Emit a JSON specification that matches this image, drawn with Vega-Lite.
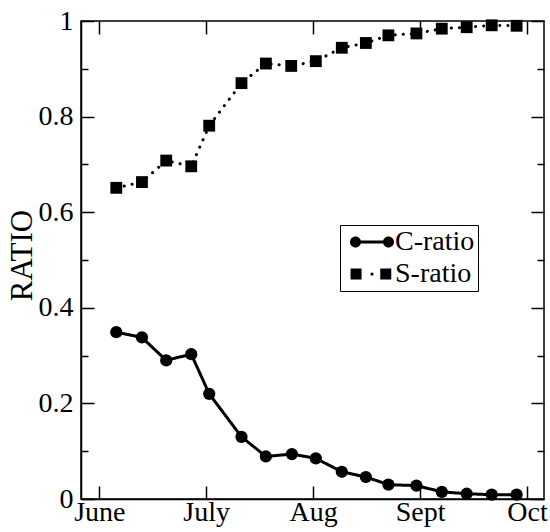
{
  "$schema": "https://vega.github.io/schema/vega-lite/v6.json",
  "width": 463,
  "height": 478,
  "autosize": "none",
  "padding": {"left": 81, "top": 21, "right": 6, "bottom": 33},
  "background": "white",
  "config": {
    "view": {"stroke": "black", "strokeWidth": 1.5},
    "axis": {
      "domainColor": "black", "domainWidth": 1.5, "tickColor": "black", "tickWidth": 1.5,
      "labelFont": "Liberation Serif", "labelFontSize": 28, "labelColor": "black",
      "titleFont": "Liberation Serif", "titleFontSize": 31, "titleFontWeight": "normal", "titleColor": "black",
      "grid": false
    }
  },
  "data": {
    "values": [
      {"m": 6.159, "v": 0.349, "s": "C-ratio"},
      {"m": 6.399, "v": 0.338, "s": "C-ratio"},
      {"m": 6.626, "v": 0.290, "s": "C-ratio"},
      {"m": 6.860, "v": 0.303, "s": "C-ratio"},
      {"m": 7.028, "v": 0.220, "s": "C-ratio"},
      {"m": 7.330, "v": 0.130, "s": "C-ratio"},
      {"m": 7.558, "v": 0.089, "s": "C-ratio"},
      {"m": 7.801, "v": 0.094, "s": "C-ratio"},
      {"m": 8.025, "v": 0.085, "s": "C-ratio"},
      {"m": 8.268, "v": 0.057, "s": "C-ratio"},
      {"m": 8.493, "v": 0.046, "s": "C-ratio"},
      {"m": 8.704, "v": 0.030, "s": "C-ratio"},
      {"m": 8.966, "v": 0.028, "s": "C-ratio"},
      {"m": 9.203, "v": 0.015, "s": "C-ratio"},
      {"m": 9.436, "v": 0.011, "s": "C-ratio"},
      {"m": 9.670, "v": 0.009, "s": "C-ratio"},
      {"m": 9.903, "v": 0.009, "s": "C-ratio"},
      {"m": 6.159, "v": 0.651, "s": "S-ratio"},
      {"m": 6.399, "v": 0.663, "s": "S-ratio"},
      {"m": 6.626, "v": 0.708, "s": "S-ratio"},
      {"m": 6.860, "v": 0.696, "s": "S-ratio"},
      {"m": 7.028, "v": 0.781, "s": "S-ratio"},
      {"m": 7.330, "v": 0.870, "s": "S-ratio"},
      {"m": 7.558, "v": 0.911, "s": "S-ratio"},
      {"m": 7.795, "v": 0.906, "s": "S-ratio"},
      {"m": 8.025, "v": 0.916, "s": "S-ratio"},
      {"m": 8.268, "v": 0.944, "s": "S-ratio"},
      {"m": 8.493, "v": 0.954, "s": "S-ratio"},
      {"m": 8.704, "v": 0.970, "s": "S-ratio"},
      {"m": 8.966, "v": 0.974, "s": "S-ratio"},
      {"m": 9.203, "v": 0.984, "s": "S-ratio"},
      {"m": 9.436, "v": 0.987, "s": "S-ratio"},
      {"m": 9.670, "v": 0.991, "s": "S-ratio"},
      {"m": 9.903, "v": 0.990, "s": "S-ratio"}
    ]
  },
  "layer": [
    {
      "mark": {"type": "line", "color": "black", "strokeWidth": 3, "strokeCap": "round"},
      "encoding": {
        "x": {
          "field": "m", "type": "quantitative",
          "scale": {"domain": [5.829, 10.159], "nice": false, "zero": false},
          "axis": {
            "orient": "bottom", "title": null, "values": [6, 7, 8, 9, 10],
            "tickSize": -13, "labelPadding": 12,
            "labelExpr": "['June','July','Aug','Sept','Oct'][round(datum.value) - 6]"
          }
        },
        "y": {
          "field": "v", "type": "quantitative",
          "scale": {"domain": [0, 1], "nice": false},
          "axis": {
            "orient": "left", "title": "RATIO", "titleX": -43, "titleY": 234,
            "values": [0, 0.1, 0.2, 0.3, 0.4, 0.5, 0.6, 0.7, 0.8, 0.9, 1],
            "tickSize": {"condition": {"test": "round(datum.value*10) % 2 == 0", "value": -13}, "value": -7},
            "labelPadding": 21,
            "labelExpr": "round(datum.value*10) % 2 == 0 ? format(datum.value, '~g') : ''"
          }
        },
        "detail": {"field": "s", "type": "nominal"},
        "strokeDash": {
          "condition": {"test": "datum.s == 'S-ratio'", "value": [0.1, 8]},
          "value": [1, 0]
        }
      }
    },
    {
      "transform": [{"filter": "datum.s == 'C-ratio'"}],
      "mark": {"type": "point", "shape": "circle", "filled": true, "color": "black", "opacity": 1, "size": 150},
      "encoding": {
        "x": {
          "field": "m", "type": "quantitative",
          "scale": {"domain": [5.829, 10.159], "nice": false, "zero": false},
          "axis": {
            "orient": "top", "title": null, "values": [6, 7, 8, 9, 10],
            "tickSize": -13, "labels": false, "domain": false
          }
        },
        "y": {
          "field": "v", "type": "quantitative",
          "scale": {"domain": [0, 1], "nice": false},
          "axis": {
            "orient": "right", "title": null, "domain": false, "labels": false,
            "values": [0, 0.1, 0.2, 0.3, 0.4, 0.5, 0.6, 0.7, 0.8, 0.9, 1],
            "tickSize": {"condition": {"test": "round(datum.value*10) % 2 == 0", "value": -13}, "value": -7}
          }
        }
      }
    },
    {
      "transform": [{"filter": "datum.s == 'S-ratio'"}],
      "mark": {"type": "point", "shape": "square", "filled": true, "color": "black", "opacity": 1, "size": 140},
      "encoding": {
        "x": {"field": "m", "type": "quantitative", "scale": {"domain": [5.829, 10.159], "nice": false, "zero": false}, "axis": null},
        "y": {"field": "v", "type": "quantitative", "scale": {"domain": [0, 1], "nice": false}, "axis": null}
      }
    },
    {
      "mark": {"type": "point", "filled": true, "color": "black", "opacity": 1, "clip": true},
      "encoding": {
        "x": {"field": "m", "type": "quantitative", "scale": {"domain": [5.829, 10.159], "nice": false, "zero": false}, "axis": null},
        "y": {"datum": -5, "type": "quantitative", "scale": {"domain": [0, 1], "nice": false}, "axis": null},
        "shape": {
          "field": "s", "type": "nominal",
          "scale": {
            "domain": ["C-ratio", "S-ratio"],
            "range": [
              "M-4,0 A1,1 0 1,1 -2,0 A1,1 0 1,1 -4,0 Z M-3,-0.27 L3,-0.27 L3,0.27 L-3,0.27 Z M2,0 A1,1 0 1,1 4,0 A1,1 0 1,1 2,0 Z",
              "M-3.9,-1 L-1.9,-1 L-1.9,1 L-3.9,1 Z M-0.25,-0.25 L0.25,-0.25 L0.25,0.25 L-0.25,0.25 Z M1.5,-1 L3.5,-1 L3.5,1 L1.5,1 Z"
            ]
          },
          "legend": {
            "title": null, "orient": "none", "legendX": 259, "legendY": 204,
            "strokeColor": "black", "padding": 3, "rowPadding": 4,
            "labelFont": "Liberation Serif", "labelFontSize": 28, "labelColor": "black",
            "labelExpr": "datum.label + '\u00a0\u00a0'",
            "symbolSize": 121, "symbolStrokeWidth": 0, "symbolFillColor": "black", "symbolOpacity": 1,
            "symbolOffset": 15, "labelOffset": 9
          }
        }
      }
    }
  ],
  "resolve": {"axis": {"x": "independent", "y": "independent"}}
}
